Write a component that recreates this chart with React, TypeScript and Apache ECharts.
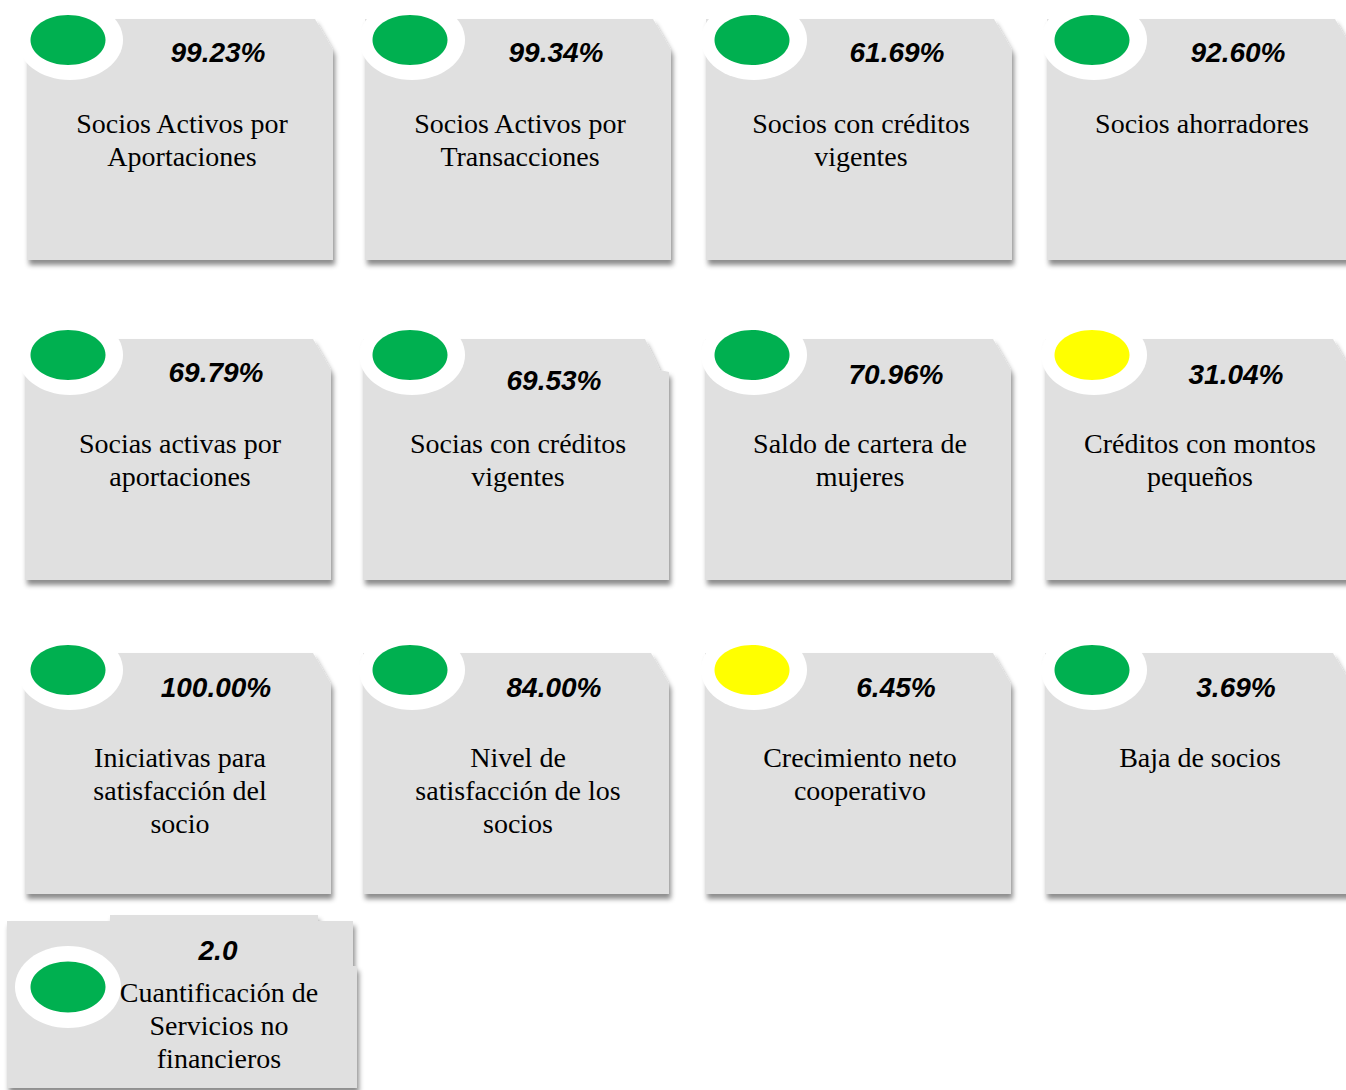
import React, { useEffect, useRef } from "react";
import * as echarts from "echarts";

// ---- data ----
const titles: string[] = [
  "Socios Activos por\nAportaciones",
  "Socios Activos por\nTransacciones",
  "Socios con créditos\nvigentes",
  "Socios ahorradores",
  "Socias activas por\naportaciones",
  "Socias con créditos\nvigentes",
  "Saldo de cartera de\nmujeres",
  "Créditos con montos\npequeños",
  "Iniciativas para\nsatisfacción del\nsocio",
  "Nivel de\nsatisfacción de los\nsocios",
  "Crecimiento neto\ncooperativo",
  "Baja de socios",
  "Cuantificación de\nServicios no\nfinancieros",
];
const values: number[] = [99.23, 99.34, 61.69, 92.6, 69.79, 69.53, 70.96, 31.04, 100.0, 84.0, 6.45, 3.69, 2.0];
const units: string[] = ["%", "%", "%", "%", "%", "%", "%", "%", "%", "%", "%", "%", ""];
const decimals: number[] = [2, 2, 2, 2, 2, 2, 2, 2, 2, 2, 2, 2, 1];
const status: string[] = [
  "green", "green", "green", "green",
  "green", "green", "green", "yellow",
  "green", "green", "yellow", "green",
  "green",
];

// ---- styling / layout ----
const statusColors: Record<string, string> = { green: "#00B050", yellow: "#FFFF00" };
const CARD_FILL = "#E0E0E0";
const rowTops = [19, 339, 653];
const rowLefts = [
  [27, 365, 706, 1047],
  [25, 363, 705, 1045],
  [25, 363, 705, 1045],
];
const dotX = [68, 410, 752, 1092];
const dotY = [40, 355, 670];
const valueDy = [
  [33, 33, 33, 33],
  [33, 41, 35, 35],
  [34, 34, 34, 34],
];
const stepCard = 5; // card whose snipped corner ends in a small step
const CARD_W = 306;
const CARD_H = 241;
const SNIP_X = 18;
const SNIP_Y = 31;

const VALUE_FONT = "italic bold 28px 'Liberation Sans', Arial, sans-serif";
const TITLE_FONT = "28px 'Liberation Serif', 'Times New Roman', serif";
const LINE_H = 33.3;

const shadow = {
  shadowBlur: 5,
  shadowOffsetX: 2,
  shadowOffsetY: 5,
  shadowColor: "rgba(0,0,0,0.45)",
};

function fmt(i: number) {
  return values[i].toFixed(decimals[i]) + units[i];
}

function buildGraphics() {
  const cards: any[] = [];
  const rings: any[] = [];
  const texts: any[] = [];

  for (let i = 0; i < 12; i++) {
    const r = Math.floor(i / 4);
    const c = i % 4;
    const L = rowLefts[r][c];
    const T = rowTops[r];
    const R = L + CARD_W;
    const B = T + CARD_H;
    const pts =
      i === stepCard
        ? [
            [L, T],
            [R - SNIP_X - 6, T],
            [R - 9, T + SNIP_Y],
            [R, T + SNIP_Y + 2],
            [R, B],
            [L, B],
          ]
        : [
            [L, T],
            [R - SNIP_X, T],
            [R, T + SNIP_Y],
            [R, B],
            [L, B],
          ];
    cards.push({
      type: "polygon",
      shape: { points: pts },
      style: { fill: CARD_FILL, ...shadow },
    });
    rings.push({
      type: "ellipse",
      shape: { cx: dotX[c] + 2, cy: dotY[r], rx: 53, ry: 40 },
      style: { fill: "#FFFFFF" },
    });
    rings.push({
      type: "ellipse",
      shape: { cx: dotX[c], cy: dotY[r], rx: 37.5, ry: 25 },
      style: { fill: statusColors[status[i]] },
    });
    texts.push({
      type: "text",
      style: {
        text: fmt(i),
        x: L + 191,
        y: T + valueDy[r][c],
        font: VALUE_FONT,
        fill: "#000",
        align: "center",
        verticalAlign: "middle",
        textAlign: "center",
        textVerticalAlign: "middle",
      },
    });
    texts.push({
      type: "text",
      style: {
        text: titles[i],
        x: L + 155,
        y: T + 104 - LINE_H / 2,
        font: TITLE_FONT,
        lineHeight: LINE_H,
        fill: "#000",
        align: "center",
        verticalAlign: "top",
        textAlign: "center",
        textVerticalAlign: "top",
      },
    });
  }

  // last card (special tab shape)
  const i = 12;
  cards.push({
    type: "polygon",
    shape: {
      points: [
        [7, 921],
        [110, 921],
        [110, 915],
        [318, 915],
        [318, 921],
        [353, 921],
        [353, 966],
        [357, 966],
        [357, 1088],
        [7, 1088],
      ],
    },
    style: { fill: CARD_FILL, ...shadow },
  });
  rings.push({
    type: "ellipse",
    shape: { cx: 68, cy: 987, rx: 53, ry: 41 },
    style: { fill: "#FFFFFF" },
  });
  rings.push({
    type: "ellipse",
    shape: { cx: 68, cy: 987, rx: 37.5, ry: 25.5 },
    style: { fill: statusColors[status[i]] },
  });
  texts.push({
    type: "text",
    style: {
      text: fmt(i),
      x: 218,
      y: 950,
      font: VALUE_FONT,
      fill: "#000",
      align: "center",
      verticalAlign: "middle",
      textAlign: "center",
      textVerticalAlign: "middle",
    },
  });
  texts.push({
    type: "text",
    style: {
      text: titles[i],
      x: 219,
      y: 992 - LINE_H / 2,
      font: TITLE_FONT,
      lineHeight: LINE_H,
      fill: "#000",
      align: "center",
      verticalAlign: "top",
      textAlign: "center",
      textVerticalAlign: "top",
    },
  });

  return [...cards, ...rings, ...texts];
}

export default function App() {
  const ref = useRef<HTMLDivElement>(null);
  useEffect(() => {
    if (!ref.current) return;
    const chart = echarts.init(ref.current, undefined, { renderer: "svg" });
    chart.setOption({
      animation: false,
      backgroundColor: "#FFFFFF",
      graphic: { elements: buildGraphics() },
    });
    return () => chart.dispose();
  }, []);
  return (
    <div
      ref={ref}
      style={{ position: "absolute", left: 0, top: 0, width: 1346, height: 1090 }}
    />
  );
}
